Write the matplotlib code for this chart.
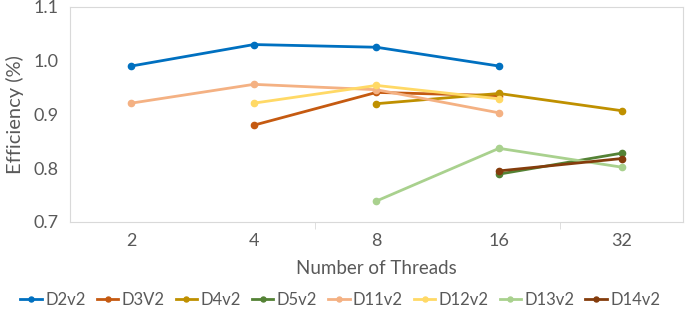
import numpy as np
import matplotlib.pyplot as plt

threads = ["2", "4", "8", "16", "32"]
nan = np.nan

d2v2 = [0.99, 1.03, 1.025, 0.99, nan]
d3v2 = [nan, 0.88, 0.941, 0.935, nan]
d4v2 = [nan, nan, 0.92, 0.939, 0.907]
d5v2 = [nan, nan, nan, 0.789, 0.828]
d11v2 = [0.921, 0.956, 0.946, 0.903, nan]
d12v2 = [nan, 0.921, 0.954, 0.929, nan]
d13v2 = [nan, nan, 0.739, 0.837, 0.802]
d14v2 = [nan, nan, nan, 0.795, 0.818]

series = [("D2v2", d2v2, "#0070C0"), ("D3V2", d3v2, "#C55A11"),
          ("D4v2", d4v2, "#BF9000"), ("D5v2", d5v2, "#548235"),
          ("D11v2", d11v2, "#F4B183"), ("D12v2", d12v2, "#FFD966"),
          ("D13v2", d13v2, "#A9D18E"), ("D14v2", d14v2, "#843C0C")]

plt.rcParams['font.family'] = ['Lato', 'DejaVu Sans']

fig = plt.figure(figsize=(6.85, 3.14), dpi=100)
ax = fig.add_axes([0.102, 0.293, 0.895, 0.685])

x = np.arange(len(threads))
for name, vals, col in series:
    ax.plot(x, vals, color=col, lw=2.0, marker="o", ms=4.5, label=name)

ax.set_xlim(-0.5, 4.5)
ax.set_ylim(0.7, 1.1)
ax.set_xticks(x)
ax.set_xticklabels(threads)
ax.set_xticks([1.5, 3.5], minor=True)
ax.set_yticks([0.7, 0.8, 0.9, 1.0, 1.1])
ax.set_yticklabels(["0.7", "0.8", "0.9", "1.0", "1.1"])
ax.tick_params(axis="x", which="major", length=0, pad=8, labelsize=13, colors="#595959")
ax.tick_params(axis="x", which="minor", length=5, color="#D9D9D9")
ax.tick_params(axis="y", length=0, pad=8, labelsize=13, colors="#595959")
for s in ax.spines.values():
    s.set_color("#D9D9D9")

ax.set_xlabel("Number of Threads", fontsize=13.5, color="#595959", labelpad=8)
ax.set_ylabel("Efficiency (%)", fontsize=14.5, color="#595959", labelpad=7)

fig.legend(loc="center", bbox_to_anchor=(0.497, 0.045), ncol=8, frameon=False,
           fontsize=12, handlelength=1.3, handletextpad=0.2, columnspacing=0.65,
           markerscale=0.8, borderaxespad=0, borderpad=0, labelcolor="#595959")

fig.savefig("out.png", dpi=100)
